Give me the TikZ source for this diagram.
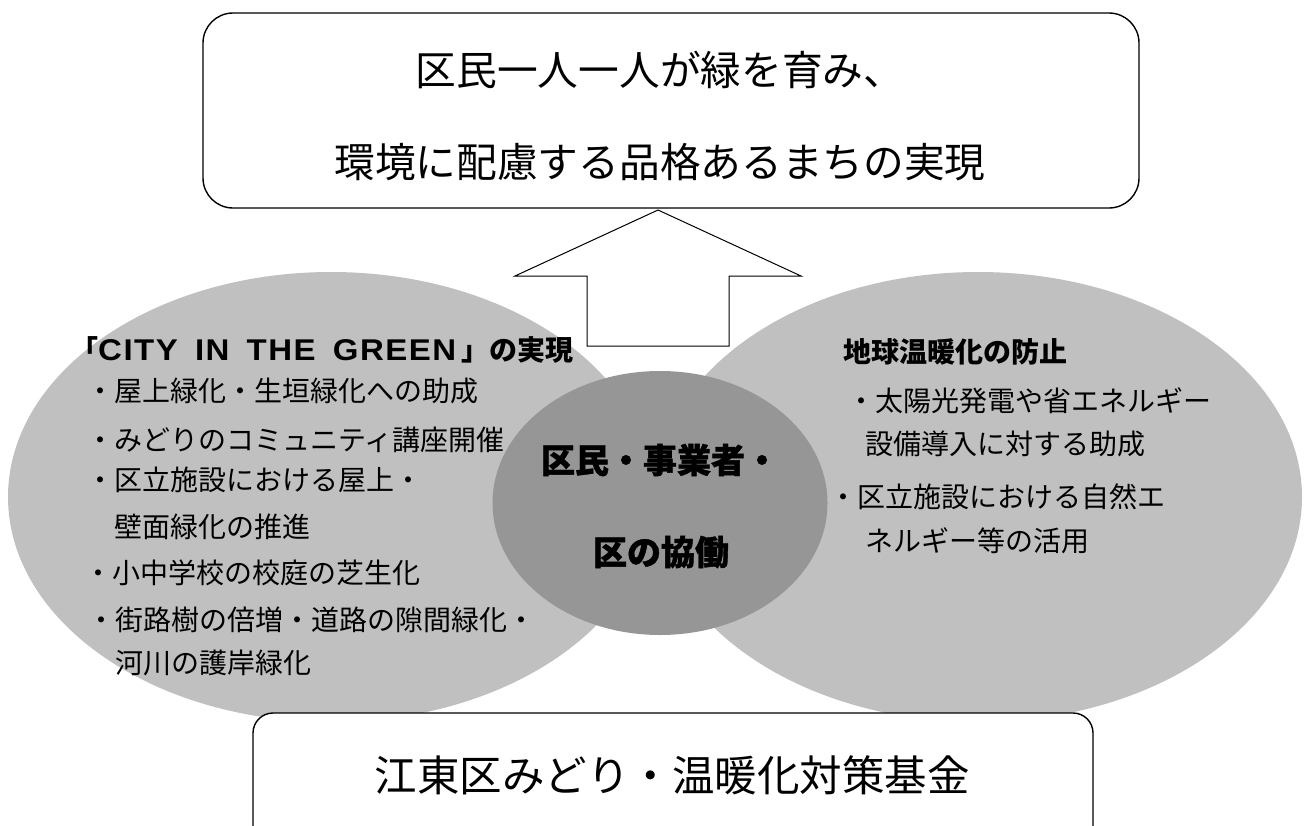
\documentclass[tikz,border=0pt]{standalone}
\usepackage{fontspec}
\setmainfont{Noto Sans CJK JP}
\newfontfamily\latinbold{Liberation Sans Bold}[LetterSpace=5,FakeStretch=1.1]
\usetikzlibrary{shapes.geometric}
\definecolor{ellgray}{RGB}{192,192,192}
\definecolor{coregray}{RGB}{150,150,150}
\tikzset{
  ellbg/.style={ellipse, fill=ellgray, draw=none, inner sep=0pt},
  corebg/.style={ellipse, fill=coregray, draw=none, inner sep=0pt},
  roundbox/.style={draw=black, line width=1.4pt, fill=white, inner sep=0pt},
  bigarrow/.style={draw=black, line width=1pt, fill=white, line join=miter},
  item/.style={anchor=west, inner sep=0pt, font=\fontsize{28}{28}\selectfont},
  head/.style={anchor=west, inner sep=0pt, font=\fontsize{28}{28}\selectfont\bfseries},
  coretext/.style={inner sep=0pt, font=\fontsize{34}{34}\selectfont\bfseries\addfontfeature{FakeBold=1.2}},
  goaltext/.style={inner sep=0pt, font=\fontsize{40.7}{41}\selectfont},
  fundtext/.style={inner sep=0pt, font=\fontsize{42.5}{43}\selectfont}
}
\begin{document}
\begin{tikzpicture}[x=1pt,y=-1pt]
\useasboundingbox (0,0) rectangle (1305,825);
\clip (0,0) rectangle (1305,825);
% ellipses
\node[ellbg, minimum width=646pt, minimum height=450pt] (lell) at (331,497) {};
\node[ellbg, minimum width=648pt, minimum height=450pt] (rell) at (978,497) {};
\node[corebg, minimum width=335pt, minimum height=264pt] (core) at (660,503) {};
% top box
\node[roundbox, rounded corners=30pt, minimum width=936pt, minimum height=195pt] (goal) at (671,110.5) {};
\node[goaltext] (goal1) at (660,70) {区民一人一人が緑を育み、};
\node[goaltext] (goal2) at (660,162) {環境に配慮する品格あるまちの実現};
% arrow
\coordinate (tip) at (658,210);
\draw[bigarrow] (tip) -- (801,276) -- (729,276) -- (729,346) -- (587,346) -- (587,276) -- (515,276) -- cycle;
% left texts
\node[head] (lhead) at (70,350) {「\makebox[358pt][s]{\fontsize{30}{30}\latinbold CITY\hfill IN\hfill THE\hfill GREEN}\hspace{5pt}」の実現};
\node[item] (l1) at (86,391) {・屋上緑化・生垣緑化への助成};
\node[item] (l2) at (86,440) {・みどりのコミュニティ講座開催};
\node[item] (l3) at (86,480) {・区立施設における屋上・};
\node[item] (l3b) at (114,527) {壁面緑化の推進};
\node[item] (l4) at (84,573) {・小中学校の校庭の芝生化};
\node[item] (l5) at (87,620) {・街路樹の倍増・道路の隙間緑化・};
\node[item] (l5b) at (115,663) {河川の護岸緑化};
% right texts
\node[head] (rhead) at (843,352) {地球温暖化の防止};
\node[item] (r1) at (847,401) {・太陽光発電や省エネルギー};
\node[item] (r1b) at (865,444) {設備導入に対する助成};
\node[item] (r2) at (829,497) {・区立施設における自然エ};
\node[item] (r2b) at (865,541) {ネルギー等の活用};
% core texts
\node[coretext] (c1) at (660,460) {区民・事業者・};
\node[coretext] (c2) at (661,552) {区の協働};
% bottom box
\node[roundbox, rounded corners=20pt, minimum width=840pt, minimum height=140pt] (fund) at (673,783) {};
\node[fundtext] (fundt) at (672,775) {江東区みどり・温暖化対策基金};
\end{tikzpicture}
\end{document}
